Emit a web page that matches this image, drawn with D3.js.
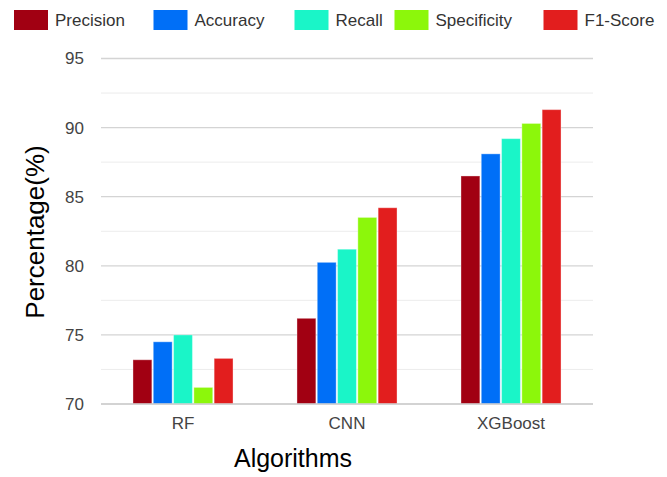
<!DOCTYPE html>
<html>
<head>
<meta charset="utf-8">
<script src="https://cdn.jsdelivr.net/npm/d3@7"></script>
<style>
  html, body { margin: 0; padding: 0; background: #fff; }
  svg { display: block; font-family: "Liberation Sans", Arial, sans-serif; }
</style>
</head>
<body>
<svg id="chart" width="667" height="477"></svg>
<script>
// Model comparison data
const algorithms = ["RF", "CNN", "XGBoost"];
const metrics = ["Precision", "Accuracy", "Recall", "Specificity", "F1-Score"];
const precision   = [73.2, 76.2, 86.5];
const accuracy    = [74.5, 80.25, 88.1];
const recall      = [75.0, 81.2, 89.2];
const specificity = [71.2, 83.5, 90.3];
const f1Score     = [73.3, 84.2, 91.3];
const yTicks = [70, 75, 80, 85, 90, 95];

const seriesValues = [precision, accuracy, recall, specificity, f1Score];
const colors = ["#a10012", "#006ff7", "#1af5c8", "#8cf70b", "#e21e1e"];

const svg = d3.select("#chart");
const plot = { left: 101, right: 593, top: 58.5, bottom: 404 };

const x0 = d3.scaleBand().domain(algorithms)
  .range([plot.left, plot.right]).paddingInner(0.39).paddingOuter(0.195);
const x1 = d3.scaleBand().domain(metrics)
  .range([0, x0.bandwidth()]).paddingInner(0.07);
const y = d3.scaleLinear().domain([70, 95]).range([plot.bottom, plot.top]);

// gridlines: minor every 2.5, major every 5
const minor = d3.range(72.5, 95, 5);
svg.append("g").selectAll("line").data(minor).join("line")
  .attr("x1", plot.left).attr("x2", plot.right)
  .attr("y1", d => y(d)).attr("y2", d => y(d))
  .attr("stroke", "#ececec").attr("stroke-width", 1);
svg.append("g").selectAll("line").data(yTicks).join("line")
  .attr("x1", plot.left).attr("x2", plot.right)
  .attr("y1", d => y(d)).attr("y2", d => y(d))
  .attr("stroke", "#d4d4d4").attr("stroke-width", 1.3);

// y axis labels
const yAxis = d3.axisLeft(y).tickValues(yTicks).tickSize(0).tickPadding(17);
const gy = svg.append("g").attr("transform", `translate(${plot.left},0)`).call(yAxis);
gy.select(".domain").remove();
gy.selectAll("text").attr("font-size", 17).attr("fill", "#444")
  .attr("font-family", "Liberation Sans, Arial, sans-serif");

// bars
const groups = svg.append("g").selectAll("g").data(algorithms).join("g")
  .attr("transform", d => `translate(${x0(d)},0)`);
groups.selectAll("rect")
  .data((a, i) => metrics.map((m, j) => ({ metric: m, value: seriesValues[j][i], color: colors[j] })))
  .join("rect")
  .attr("x", d => x1(d.metric))
  .attr("width", x1.bandwidth())
  .attr("y", d => y(d.value))
  .attr("height", d => y(70) - y(d.value))
  .attr("fill", d => d.color)
  .attr("stroke", "rgba(255,255,255,0.35)")
  .attr("stroke-width", 1);

// baseline
svg.append("line")
  .attr("x1", plot.left).attr("x2", plot.right)
  .attr("y1", y(70)).attr("y2", y(70))
  .attr("stroke", "#cfcfcf").attr("stroke-width", 1.5);

// x axis labels
const xAxis = d3.axisBottom(x0).tickSize(0).tickPadding(13);
const gx = svg.append("g").attr("transform", `translate(0,${plot.bottom})`).call(xAxis);
gx.select(".domain").remove();
gx.selectAll("text").attr("font-size", 17).attr("fill", "#444")
  .attr("font-family", "Liberation Sans, Arial, sans-serif");

// axis titles
svg.append("text")
  .attr("x", 293).attr("y", 467)
  .attr("text-anchor", "middle")
  .attr("font-size", 25).attr("fill", "#000")
  .text("Algorithms");
svg.append("text")
  .attr("transform", "translate(44,232) rotate(-90)")
  .attr("text-anchor", "middle")
  .attr("font-size", 26).attr("fill", "#000")
  .text("Percentage(%)");

// legend
const legendX = [14, 153.5, 294.5, 394.5, 543.5];
const legend = svg.append("g").selectAll("g").data(metrics).join("g")
  .attr("transform", (d, i) => `translate(${legendX[i]},10)`);
legend.append("rect")
  .attr("width", 34).attr("height", 20)
  .attr("fill", (d, i) => colors[i]);
legend.append("text")
  .attr("x", 41).attr("y", 16)
  .attr("font-size", 17).attr("fill", "#333")
  .text(d => d);
</script>
</body>
</html>
